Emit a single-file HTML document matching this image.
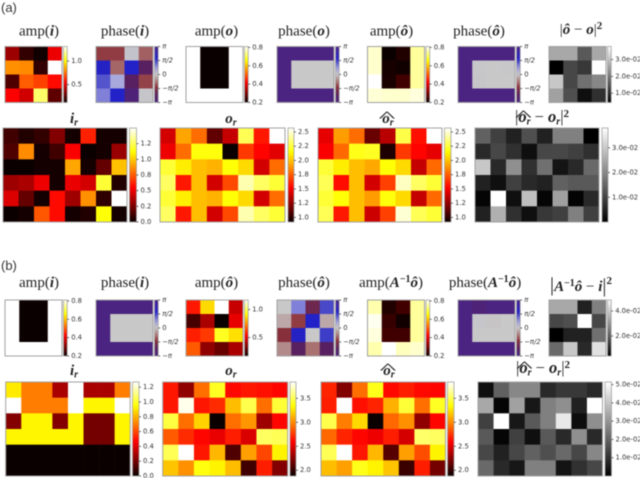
<!DOCTYPE html>
<html lang="en">
<head>
<meta charset="utf-8">
<title>Amplitude and phase heatmap comparison</title>
<style>
html,body{margin:0;padding:0;background:#fff;width:640px;height:478px;overflow:hidden}
svg{display:block;filter:blur(.45px)}
.title{font-family:"Liberation Serif",serif;font-size:15px;fill:#222;text-anchor:middle}
.big{font-size:16.5px}
.bi{font-weight:bold;font-style:italic}
.b{font-weight:bold}
.tick{font-family:"DejaVu Sans",sans-serif;font-size:6.8px;fill:#333;dominant-baseline:central}
.letter{font-family:"Liberation Sans",sans-serif;font-size:13px;fill:#333}
</style>
</head>
<body>
<svg id="fig" xmlns="http://www.w3.org/2000/svg" width="640" height="478" viewBox="0 0 640 478">
<defs id="defs"></defs>
<text class="letter" x="1" y="12">(a)</text>
<text class="letter" x="1" y="270">(b)</text>
</svg>
<script>
// ---------- data: tick values and labels ----------
const phaseTicks = [3.1416, 1.5708, 0, -1.5708, -3.1416];
const phaseLabels = ['π', 'π/2', '0', '−π/2', '−π'];
const maskTicks = [0.8, 0.6, 0.4, 0.2];
const maskLabels = ['0.8', '0.6', '0.4', '0.2'];
const aAmpITicks = [1.0, 0.5];
const aAmpILabels = ['1.0', '0.5'];
const aErrTicks = [3, 2, 1];
const aErrLabels = ['3.0e-02', '2.0e-02', '1.0e-02'];
const aIrTicks = [0, 0.25, 0.5, 0.75, 1.0, 1.25];
const aIrLabels = ['0.0', '0.2', '0.5', '0.8', '1.0', '1.2'];
const aOrTicks = [1.0, 1.25, 1.5, 1.75, 2.0, 2.25, 2.5];
const aOrLabels = ['1.0', '1.2', '1.5', '1.8', '2.0', '2.2', '2.5'];
const bAmpOTicks = [1.0, 0.5];
const bAmpOLabels = ['1.0', '0.5'];
const bErrTicks = [4, 2];
const bErrLabels = ['4.0e-02', '2.0e-02'];
const bIrTicks = [0, 0.2, 0.4, 0.6, 0.8, 1.0, 1.2];
const bIrLabels = ['0.0', '0.2', '0.4', '0.6', '0.8', '1.0', '1.2'];
const bOrTicks = [2.0, 2.5, 3.0, 3.5];
const bOrLabels = ['2.0', '2.5', '3.0', '3.5'];
const bErr2Ticks = [5, 4, 3, 2, 1];
const bErr2Labels = ['5.0e-02', '4.0e-02', '3.0e-02', '2.0e-02', '1.0e-02'];

// ---------- data: cell values ----------
const aAmpI = [[.38,.19,.13,.52],[.81,.80,.19,1.31],[.24,.72,.67,.57],[.55,.47,1.13,.27]];
const aPhaseI = [[-1.3,-1.3,.1,-1.0],[1.9,-.95,1.8,-2.3],[1.35,.6,-2.3,-1.25],[1.0,1.8,-2.9,.05]];
const maskAmp = [[.81,.2,.2,.81],[.81,.2,.2,.81],[.81,.2,.2,.81],[.81,.81,.81,.81]];
const maskPhase = [[-3.14,-3.14,-3.14,-3.14],[-3.14,0,0,0],[-3.14,0,0,0],[-3.14,-3.14,-3.14,-3.14]];
const aAmpOHat = [[.78,.20,.22,.75],[.78,.21,.205,.75],[.81,.215,.25,.75],[.785,.78,.78,.79]];
const aPhaseOHat = [[-3.14,-3.14,-3.14,-3.14],[-3.14,.02,0,.02],[-3.14,.03,0,0],[-3.14,-3.14,-3.14,-3.14]];
const aErrSmall = [[2.64,2.64,1.61,2.64],[.45,1.38,1.18,3.77],[3.04,1.38,1.91,2.21],[2.54,1.48,.65,1.08]];
const aIr = [
 [.12,.05,.09,.27,.02,.62,.02,.02],
 [.15,.86,.02,.12,.54,0,.02,.32],
 [0,0,.02,.02,.92,.02,.2,.98],
 [.33,.36,.51,.02,.5,.45,1.2,.05],
 [.47,.2,.02,.57,.33,.87,.08,1.5],
 [0,.02,.74,.57,.02,.05,1.13,.02]];
const aOr = [
 [1.415,1.93,1.79,1.13,1.38,2.29,1.58,2.57],
 [1.48,1.79,2.17,2.17,.92,1.66,1.53,1.45],
 [2.24,2.11,1.99,1.96,2.16,2.06,1.415,1.79],
 [2.31,1.58,1.99,1.415,1.70,2.44,2.31,2.24],
 [2.24,2.11,1.99,1.96,2.16,2.06,1.415,1.79],
 [2.31,1.58,1.99,1.415,1.70,2.44,2.31,2.24]];
const aOrHat = [
 [1.46,1.91,1.79,1.15,1.35,2.27,1.56,2.57],
 [1.51,1.78,2.19,2.21,.97,1.66,1.53,1.46],
 [2.24,2.11,1.99,1.94,2.16,2.06,1.38,1.78],
 [2.29,1.55,1.99,1.415,1.68,2.47,2.31,2.24],
 [2.24,2.16,1.99,1.91,2.17,2.06,1.38,1.78],
 [2.29,1.58,1.99,1.40,1.68,2.50,2.29,2.24]];
const aErr = [
 [1.44,.95,.49,1.18,.49,1.9,1.9,0],
 [.61,1.06,.72,.23,1.06,1.06,.95,.72],
 [2.96,.61,2.13,.72,1.67,.3,.61,1.56],
 [.49,.23,.95,.61,.49,1.44,1.33,1.33],
 [.08,3.8,.23,2.85,.08,2.39,.04,.61],
 [.49,2.62,.72,.23,.84,.95,1.9,.95]];
const bAmpOHat = [[.57,.86,1.17,.45],[.26,.41,.17,.50],[.58,.62,.95,.87],[.67,.37,.31,.41]];
const bPhaseOHat = [[0,1.0,-1.9,1.45],[-.3,-1.3,1.8,-.3],[-1.45,1.9,0,1.55],[-.6,-2.3,-.85,-2.3]];
const bAmpAinv = [[.76,.22,.25,.75],[.80,.24,.205,.75],[.79,.25,.25,.75],[.76,.81,.77,.78]];
const bPhaseAinv = [[-3.14,-2.9,-3.14,-3.14],[-3.14,.06,-.04,0],[-3.14,0,0,0],[-3.14,-3.14,-3.14,-3.14]];
const bErrSmall = [[3.36,3.36,.98,2.64],[1.65,1.79,4.88,1.65],[.4,.98,.98,2.37],[2.24,3.89,1.12,4.34]];
const bIr = [
 [.91,.7,.7,.3,1.27,.3,.3,.7],
 [1.27,.7,.7,.7,1.27,.93,.93,1.27],
 [.23,.93,.93,.23,.93,.2,.2,.93],
 [.93,.93,.93,.93,.93,.2,.2,.93],
 [0,0,0,0,0,0,0,0],
 [0,0,0,0,0,0,0,0]];
const bOr = [
 [2.66,2.27,2.92,3.41,2.62,2.66,2.64,2.61],
 [2.66,3.80,2.66,2.72,3.15,3.49,2.92,3.45],
 [3.47,2.92,3.21,1.88,2.92,3.04,2.31,2.61],
 [2.86,2.72,2.61,2.53,2.68,2.49,3.53,3.51],
 [3.51,3.84,2.66,3.13,2.08,3.06,2.80,3.31],
 [3.17,3.02,3.37,3.31,3.15,2.04,2.68,2.23]];
const bOrHat = [
 [2.70,2.23,2.92,3.39,2.62,2.68,2.62,2.61],
 [2.68,3.84,2.64,2.70,3.11,3.45,2.92,3.41],
 [3.49,2.96,3.23,1.88,2.90,3.02,2.27,2.61],
 [2.90,2.70,2.61,2.55,2.68,2.47,3.55,3.53],
 [3.51,3.84,2.66,3.13,2.10,3.06,2.82,3.31],
 [3.15,3.06,3.39,3.31,3.17,2.02,2.68,2.19]];
const bErr = [
 [.31,1.95,2.72,2.72,.82,1.13,1.13,.82],
 [3.39,.1,3.24,.46,2.57,2.88,.67,5.14],
 [1.29,5.14,.46,1.8,2.57,4.68,.26,2.88],
 [1.8,.1,1.29,.31,1.8,.82,2.88,.82],
 [1.44,.67,1.44,1.95,1.59,2.11,1.44,2.72],
 [2.11,.82,.46,2.57,2.57,.41,.98,1.44]];

// ---------- colour maps ----------
function hex2(v){return Math.round(Math.max(0,Math.min(1,v))*255).toString(16).padStart(2,'0');}
function hot(t){
  const r = .0416 + t/.365*.9584;
  const g = (t-.365)/.381;
  const b = (t-.746)/.254;
  return '#'+hex2(r)+hex2(g)+hex2(b);
}
function gray(t){const c=hex2(t);return '#'+c+c+c;}
const phaseStops = [
 [-3.1416,'#4a2480'],[-2.3,'#582060'],[-1.4,'#8a3038'],[-.9,'#a86c6c'],[-.3,'#bca8a8'],[0,'#c8c8c8'],
 [.6,'#a8a8dc'],[1.0,'#8080d8'],[1.45,'#4848c8'],[1.8,'#2222c8'],[2.6,'#3a20a8'],[3.1416,'#4a2480']];
function phaseMap(t){
  const v = -Math.PI + t*2*Math.PI;
  for(let i=1;i<phaseStops.length;i++){
    if(v<=phaseStops[i][0]){
      const a=phaseStops[i-1],b=phaseStops[i],f=Math.max(0,(v-a[0])/(b[0]-a[0]));
      let out='#';
      for(let k=1;k<7;k+=2){
        const c0=parseInt(a[1].substr(k,2),16),c1=parseInt(b[1].substr(k,2),16);
        out+=Math.round(c0+(c1-c0)*f).toString(16).padStart(2,'0');
      }
      return out;
    }
  }
  return phaseStops[phaseStops.length-1][1];
}

// ---------- drawing ----------
const NS='http://www.w3.org/2000/svg';
const fig=document.getElementById('fig');
const defs=document.getElementById('defs');
function mk(tag,attrs,parent){
  const e=document.createElementNS(NS,tag);
  for(const k in attrs)e.setAttribute(k,attrs[k]);
  parent.appendChild(e);
  return e;
}
let gradId=0;
function heatmap(name,x,y,w,h,cbx,cbw,values,cmap,vmin,vmax,ticks,labels){
  const g=mk('g',{},fig);
  
  
  const rows=values.length,cols=values[0].length;
  const xScale=c=>x+c*w/cols;
  const yScale=r=>y+r*h/rows;
  const colorScale=v=>cmap(Math.max(0,Math.min(1,(v-vmin)/(vmax-vmin))));
  const barScale=v=>y+h-(v-vmin)/(vmax-vmin)*h;
  values.forEach((row,r)=>row.forEach((v,c)=>{
    const cell=mk('rect',{x:xScale(c),y:yScale(r),width:w/cols+.3,height:h/rows+.3,fill:colorScale(v)},g);
    
    
  }));
  const frame=mk('rect',{x:x,y:y,width:w,height:h,fill:'none',stroke:'#a2a2a2','stroke-width':1},g);
  
  
  // colour bar
  const id='grad'+(gradId++);
  const lg=mk('linearGradient',{id:id,x1:0,y1:1,x2:0,y2:0},defs);
  for(let i=0;i<=40;i++){mk('stop',{offset:i/40,'stop-color':cmap(i/40)},lg);}
  const bar=mk('rect',{x:cbx,y:y,width:cbw,height:h,fill:'url(#'+id+')',stroke:'#a2a2a2','stroke-width':.8},g);
  
  
  ticks.forEach((t,i)=>{
    const ty=barScale(t);
    const tk=mk('line',{x1:cbx+cbw,x2:cbx+cbw+2,y1:ty,y2:ty,stroke:'#333','stroke-width':.7},g);
    
    
    const lab=mk('text',{x:cbx+cbw+4,y:ty,class:'tick'},g);
    
    
    lab.textContent=labels[i];
    if(labels[i].indexOf('π')>=0)lab.setAttribute('font-style','italic');
  });
}
function title(name,cx,by,markup,hat,big){
  const t=mk('text',{x:cx,y:by,class:big?'title big':'title'},fig);
  
  
  t.innerHTML=markup;
  if(hat!==undefined){
    const h=mk('text',{class:'title',transform:'translate('+hat+','+(by-1.5)+') scale(2.4,1)',x:0,y:0},fig);
    
    
    h.textContent='^';
  }
}

const X1=[5,96,186,277,367.5,458,549];
const CB1=[63.5,154.5,244.5,335.5,426,516.5,607.5];
const W1=57,H1=56,CBW1=3.7;
const Y_A1=46.5,Y_B1=300;

// Panel (a), top row
heatmap('a-amp-i',X1[0],Y_A1,W1,H1,CB1[0],CBW1,aAmpI,hot,.12,1.31,aAmpITicks,aAmpILabels);
heatmap('a-phase-i',X1[1],Y_A1,W1,H1,CB1[1],CBW1,aPhaseI,phaseMap,-Math.PI,Math.PI,phaseTicks,phaseLabels);
heatmap('a-amp-o',X1[2],Y_A1,W1,H1,CB1[2],CBW1,maskAmp,hot,.2,.81,maskTicks,maskLabels);
heatmap('a-phase-o',X1[3],Y_A1,W1,H1,CB1[3],CBW1,maskPhase,phaseMap,-Math.PI,Math.PI,phaseTicks,phaseLabels);
heatmap('a-amp-o-hat',X1[4],Y_A1,W1,H1,CB1[4],CBW1,aAmpOHat,hot,.2,.81,maskTicks,maskLabels);
heatmap('a-phase-o-hat',X1[5],Y_A1,W1,H1,CB1[5],CBW1,aPhaseOHat,phaseMap,-Math.PI,Math.PI,phaseTicks,phaseLabels);
heatmap('a-error-o',X1[6],Y_A1,W1,H1,CB1[6],CBW1,aErrSmall,gray,.45,3.77,aErrTicks,aErrLabels);

// Panel (a), bottom row
heatmap('a-i-r',3,128,124,94,129.5,7,aIr,hot,0,1.5,aIrTicks,aIrLabels);
heatmap('a-o-r',160,128,125,94,288,6,aOr,hot,.92,2.57,aOrTicks,aOrLabels);
heatmap('a-o-r-hat',318,128,124,94,444.5,6.5,aOrHat,hot,.92,2.57,aOrTicks,aOrLabels);
heatmap('a-error-r',475,128,124,94,602,6,aErr,gray,0,3.8,aErrTicks,aErrLabels);

// Panel (b), top row
heatmap('b-amp-i',X1[0],Y_B1,W1,H1,CB1[0],CBW1,maskAmp,hot,.2,.81,maskTicks,maskLabels);
heatmap('b-phase-i',X1[1],Y_B1,W1,H1,CB1[1],CBW1,maskPhase,phaseMap,-Math.PI,Math.PI,phaseTicks,phaseLabels);
heatmap('b-amp-o-hat',X1[2],Y_B1,W1,H1,CB1[2],CBW1,bAmpOHat,hot,.17,1.17,bAmpOTicks,bAmpOLabels);
heatmap('b-phase-o-hat',X1[3],Y_B1,W1,H1,CB1[3],CBW1,bPhaseOHat,phaseMap,-Math.PI,Math.PI,phaseTicks,phaseLabels);
heatmap('b-amp-a-inv',X1[4],Y_B1,W1,H1,CB1[4],CBW1,bAmpAinv,hot,.2,.81,maskTicks,maskLabels);
heatmap('b-phase-a-inv',X1[5],Y_B1,W1,H1,CB1[5],CBW1,bPhaseAinv,phaseMap,-Math.PI,Math.PI,phaseTicks,phaseLabels);
heatmap('b-error-i',X1[6],Y_B1,W1,H1,CB1[6],CBW1,bErrSmall,gray,.4,4.88,bErrTicks,bErrLabels);

// Panel (b), bottom row
heatmap('b-i-r',5.7,382,124.5,94,132.5,6.5,bIr,hot,0,1.27,bIrTicks,bIrLabels);
heatmap('b-o-r',162.7,382,125,94,290,6,bOr,hot,1.88,3.84,bOrTicks,bOrLabels);
heatmap('b-o-r-hat',321,382,124.5,94,447.5,6.5,bOrHat,hot,1.88,3.84,bOrTicks,bOrLabels);
heatmap('b-error-r',478,382,124.5,94,605,6.5,bErr,gray,0,5.14,bErr2Ticks,bErr2Labels);

// Titles
const B='<tspan class="bi">', E='</tspan>';
const SUP2='<tspan class="b" font-size="11" dy="-5">2</tspan>';
const ERR_R='|'+B+'o'+E+'<tspan class="bi" font-size="10" dy="2.5">r</tspan><tspan dy="-2.5"> − </tspan>'+B+'o'+E+'<tspan class="bi" font-size="10" dy="2.5">r</tspan><tspan dy="-2.5">|</tspan>'+SUP2;
const OR=B+'o'+E+'<tspan class="bi" font-size="10" dy="2.5">r</tspan>';
const IR=B+'i'+E+'<tspan class="bi" font-size="10" dy="2.5">r</tspan>';

title('title-a-amp-i',39,35.5,'amp('+B+'i'+E+')');
title('title-a-phase-i',125,35.5,'phase('+B+'i'+E+')');
title('title-a-amp-o',216.5,35.5,'amp('+B+'o'+E+')');
title('title-a-phase-o',304,35.5,'phase('+B+'o'+E+')');
title('title-a-amp-o-hat',391.5,35.5,'amp('+B+'ô'+E+')');
title('title-a-phase-o-hat',479,35.5,'phase('+B+'ô'+E+')');
title('title-a-error-o',581,34,'|'+B+'ô'+E+' − '+B+'o'+E+'|'+SUP2);
title('title-a-i-r',74,123,IR);
title('title-a-o-r',231,123,OR);
title('title-a-o-r-hat',388,123,OR,387);
title('title-a-error-r',542,122,ERR_R,523.5,true);

title('title-b-amp-i',39,287,'amp('+B+'i'+E+')');
title('title-b-phase-i',125,287,'phase('+B+'i'+E+')');
title('title-b-amp-o-hat',216.5,287,'amp('+B+'ô'+E+')');
title('title-b-phase-o-hat',304,287,'<tspan>phase(</tspan>'+B+'ô'+E+')');
const AINV=B+'A'+E+'<tspan class="b" font-size="10" dy="-5">−1</tspan><tspan dy="5" class="bi">ô</tspan>';
title('title-b-amp-a-inv',391,287,'amp('+AINV+')');
title('title-b-phase-a-inv',485,287,'phase('+AINV+')');
title('title-b-error-i',581,290,'<tspan font-size="20" dy="1">|</tspan><tspan dy="-1"></tspan>'+AINV+' − '+B+'i'+E+'<tspan font-size="20" dy="1">|</tspan><tspan class="b" font-size="11" dy="-8">2</tspan>');
title('title-b-i-r',74,375,IR);
title('title-b-o-r',231,375,OR);
title('title-b-o-r-hat',389,375,OR,388);
title('title-b-error-r',543,373,ERR_R,524.5,true);
</script>
</body>
</html>
